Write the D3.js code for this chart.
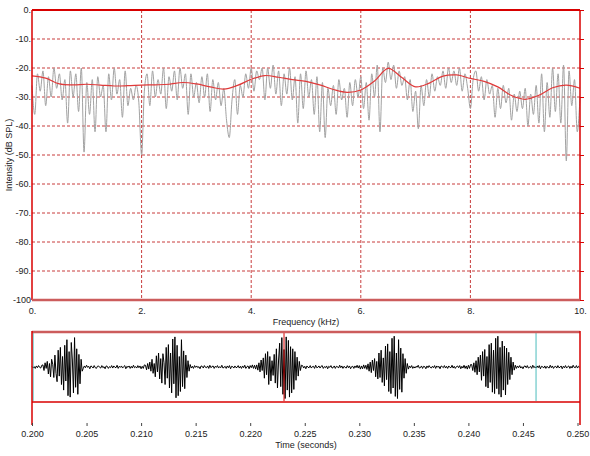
<!DOCTYPE html>
<html>
<head>
<title>Spectrum and waveform</title>
<script src="https://d3js.org/d3.v7.min.js"></script>
<style>
  body { margin: 0; background: #fff; }
  svg { font-family: 'Liberation Sans', Arial, sans-serif; }
  text { fill: #222; font-size: 9px; }
</style>
</head>
<body>
<svg width="590" height="456"></svg>

<script>

// spectrum (dB SPL), one value every 0.05 kHz from 0 to 10 kHz
const specStep = 0.05;
const spectrum = [
  -26,-36,-22,-28,-21,-33,-23,-30,-20,-27,-22,-31,-24,-39,-21,-30,-22,-35,-20,-49,
  -25,-36,-24,-42,-23,-30,-26,-42,-22,-31,-20,-29,-24,-37,-21,-33,-27,-31,-26,-32,
  -50,-28,-22,-33,-21,-30,-24,-29,-20,-34,-23,-28,-21,-31,-20,-27,-22,-36,-22,-30,
  -25,-32,-23,-30,-22,-35,-24,-31,-25,-33,-27,-38,-44,-31,-24,-36,-26,-30,-22,-27,
  -20,-28,-21,-24,-20,-31,-20,-27,-19,-29,-21,-33,-22,-29,-20,-31,-23,-39,-22,-34,
  -21,-30,-24,-36,-23,-42,-25,-44,-27,-33,-26,-36,-24,-31,-27,-37,-25,-33,-24,-30,
  -23,-34,-25,-38,-22,-30,-19,-42,-20,-25,-18,-24,-19,-27,-21,-26,-23,-31,-24,-35,
  -28,-41,-26,-33,-24,-30,-22,-28,-23,-26,-21,-27,-20,-25,-21,-26,-20,-28,-22,-27,
  -34,-24,-21,-28,-23,-31,-24,-29,-26,-37,-27,-34,-26,-32,-27,-38,-29,-35,-28,-34,
  -27,-40,-29,-36,-26,-39,-22,-42,-25,-37,-20,-35,-22,-39,-19,-52,-21,-33,-24,-42,
  -30
];

// smoothed envelope (dB SPL), one value every 0.25 kHz
const envStep = 0.25;
const envelope = [
  -22.7,-23.5,-25.5,-25.8,-25.6,-25.9,-26.2,-26.1,-25.9,-25.8,-25.6,-25.0,
  -25.5,-26.5,-27.3,-26.0,-23.9,-22.6,-23.2,-24.0,-24.6,-25.8,-27.4,-28.4,
  -27.6,-24.5,-20.1,-23.3,-26.5,-25.2,-22.8,-22.4,-23.6,-24.6,-26.5,-29.5,
  -30.8,-29.4,-26.8,-25.9,-27.0
];

const dbTicks = [0, -10, -20, -30, -40, -50, -60, -70, -80, -90, -100];
const khzTicks = [0, 2, 4, 6, 8, 10];

// waveform, one sample every 0.1 ms starting at 0.200 s
const waveStart = 0.2;
const waveStep = 0.0001;
const noise0 = [2,-3,1,-4,3,-2,4,-1,-3,5];
const burst1 = [6,-10,12,-4,16,-20,10,-28,22,8,-30,34,-18,-42,48,-26,56,-50,30,-66,
  62,-40,78,-82,44,-86,70,20,-74,84,-58,52,-78,36,-48,22,-12];
const noise1 = [-4,3,-2,5,-1,2,-5,3,1,-3,4,-2,-4,2,3,-1,-3,4,-2,1,-5,3,2,-4,1,-2,4,-3,3,-1,
  -2,5,-4,2,-1,3,-3,1,4,-5,2,-1,3,-4,2,-3,5,-2,1,-3,4,-2,3,-5,2,-4,6];
const burst2 = [5,-8,10,-6,14,-12,22,-18,10,-28,32,-14,40,-34,24,-46,38,12,-50,56,
  -32,64,-60,40,-74,80,-48,86,-88,62,-82,30,-70,78,-56,46,-62,34,-30,18,-12,7];
const noise2 = [-3,2,-4,4,-1,3,-2,1,-5,3,2,-3,4,-1,-2,3,-4,5,-2,1,3,-4,2,-1,4,-3,1,-2,5,-3,
  -1,2,-4,3,-2,4,-5,2,1,-3,3,-2,-1,4,-3,2,-4,3,-2,5,-4,1,3,-5,4,-2,6,-4,5,-6];
const burst3 = [6,-9,12,-14,20,-10,26,-32,38,-22,44,-50,30,-40,18,-24,36,-46,52,-60,
  20,68,-56,84,-78,50,-90,86,-66,76,-86,58,-74,52,-64,44,-38,28,-26,16,-10,5];
const noise3 = [4,-3,2,-5,3,-1,-2,4,-3,1,2,-4,5,-2,-1,3,-3,2,4,-4,1,-2,3,-5,2,-1,4,-3,-2,3,
  -4,2,1,-3,5,-2,3,-4,2,-1,-3,4,-2,3,-5,1,2,-4,3,-2,5,-3,4,-6,3,-5,6,-4];
const burst4 = [5,-7,9,-12,14,-16,20,-10,24,-28,16,-34,40,-30,48,-44,26,-54,60,-36,
  66,-70,44,-76,82,-60,88,-84,40,-90,78,-64,54,-72,38,-32,24,-18,10,-6];
const noise4 = [3,-2,4,-4,1,-3,2,-1,5,-3,-2,3,-4,2,1,-5,3,-2,4,-1,-3,2,-2,4,-4,3,-1,2,-5,3,
  1,-2,4,-3,2,-4,3,-1,-2,5,-3,2,-4,1,3,-2,4,-5,2,-3,5,-4,3,-6,5,-4,7];
const burst5 = [7,-10,12,-15,18,-22,28,-14,34,-38,44,-26,50,-56,30,-60,64,-44,68,-72,
  48,-76,82,-62,88,-78,56,-86,74,-66,60,-80,54,-50,42,-36,28,-22,14,-9,5];
const noise5 = [-4,3,-2,4,-3,1,-5,2,3,-2,4,-3,-1,2,-4,5,-2,1,-3,3,-2,4,-5,2,1,-3,3,-4,2,-1,
  -3,5,-2,3,-4,1,2,-3,4,-2,-1,3,-5,2,-2,4,-3,1,3,-4,2,-3,5,-1,-2,4,-3,2,-1];

const timeTicks = [0.200, 0.205, 0.210, 0.215, 0.220, 0.225, 0.230, 0.235, 0.240, 0.245, 0.250];
const cursorTime = 0.2231;
const markerTimes = [0.2001, 0.2462];


const svg = d3.select('svg');
const red = '#d80000';
const pale = '#cc5c5c';

// scales
const x = d3.scaleLinear().domain([0, 10]).range([32, 580]);
const y = d3.scaleLinear().domain([-100, 0]).range([300, 10]);
const t = d3.scaleLinear().domain([0.2, 0.25]).range([32, 577.5]);
const amp = d3.scaleLinear().domain([-100, 100]).range([402, 332]);

// ---- spectrum panel ----

// grid
svg.append('g')
    .selectAll('line').data(dbTicks.filter(d => d !== 0 && d !== -100))
    .enter().append('line')
        .attr('x1', x(0)).attr('x2', x(10))
        .attr('y1', d => y(d)).attr('y2', d => y(d))
        .attr('stroke', '#c83c3c')
        .attr('stroke-dasharray', '3,2');
svg.append('g')
    .selectAll('line').data(khzTicks.filter(d => d !== 0 && d !== 10))
    .enter().append('line')
        .attr('x1', d => x(d)).attr('x2', d => x(d))
        .attr('y1', y(0)).attr('y2', y(-100))
        .attr('stroke', '#c83c3c')
        .attr('stroke-dasharray', '3,2');

// gray spectrum
svg.append('path')
    .datum(spectrum)
    .attr('fill', 'none')
    .attr('stroke', '#a2a2a2')
    .attr('stroke-width', 1)
    .attr('d', d3.line()
        .x((d, i) => x(i * specStep))
        .y(d => y(d))
        .curve(d3.curveMonotoneX));

// red envelope
svg.append('path')
    .datum(envelope)
    .attr('fill', 'none')
    .attr('stroke', '#e03a3a')
    .attr('stroke-width', 1.2)
    .attr('d', d3.line()
        .x((d, i) => x(i * envStep))
        .y(d => y(d))
        .curve(d3.curveCatmullRom));

// axes
const yAxisG = svg.append('g')
    .attr('transform', 'translate(32,0)')
    .call(d3.axisLeft(y)
        .tickValues(dbTicks)
        .tickSize(0)
        .tickPadding(1)
        .tickFormat(d => d === -100 ? '-100' : d + '.'));
yAxisG.select('.domain').remove();
yAxisG.selectAll('text').style('font-size', '9px').attr('fill', '#222');

const rightAxisG = svg.append('g')
    .attr('transform', 'translate(580,0)')
    .call(d3.axisRight(y).tickValues(dbTicks).tickSize(4).tickFormat(''));
rightAxisG.select('.domain').remove();
rightAxisG.selectAll('line').attr('stroke', red);

const xAxisG = svg.append('g')
    .attr('transform', 'translate(0,300)')
    .call(d3.axisBottom(x)
        .tickValues(khzTicks)
        .tickSize(0)
        .tickPadding(8)
        .tickFormat(d => d + '.'));
xAxisG.select('.domain').remove();
xAxisG.selectAll('text').style('font-size', '9px').attr('fill', '#222');

// frame
svg.append('line').attr('x1', 32).attr('x2', 580).attr('y1', y(0)).attr('y2', y(0))
    .attr('stroke', red).attr('stroke-width', 2);
svg.append('line').attr('x1', 32).attr('x2', 32).attr('y1', y(0)).attr('y2', y(-100))
    .attr('stroke', red).attr('stroke-width', 1.5);
svg.append('line').attr('x1', 580).attr('x2', 580).attr('y1', y(0)).attr('y2', y(-100))
    .attr('stroke', red).attr('stroke-width', 1.5);
svg.append('line').attr('x1', 32).attr('x2', 580).attr('y1', y(-100)).attr('y2', y(-100))
    .attr('stroke', pale).attr('stroke-width', 2.5);

svg.append('text')
    .attr('x', 306).attr('y', 325)
    .attr('text-anchor', 'middle')
    .text('Frequency (kHz)');
svg.append('text')
    .attr('transform', 'translate(12,155) rotate(-90)')
    .attr('text-anchor', 'middle')
    .text('Intensity (dB SPL)');

// ---- waveform panel ----

const wave = [].concat(noise0, burst1, noise1, burst2, noise2, burst3,
    noise3, burst4, noise4, burst5, noise5);

svg.append('path')
    .datum(wave)
    .attr('fill', 'none')
    .attr('stroke', '#000')
    .attr('stroke-width', 1)
    .attr('d', d3.line()
        .x((d, i) => t(waveStart + i * waveStep))
        .y(d => amp(d)));

svg.append('g')
    .selectAll('line').data(markerTimes)
    .enter().append('line')
        .attr('x1', d => t(d)).attr('x2', d => t(d))
        .attr('y1', 333).attr('y2', 401)
        .attr('stroke', '#4cbcbc');

svg.append('line')
    .attr('x1', t(cursorTime)).attr('x2', t(cursorTime))
    .attr('y1', 333).attr('y2', 401)
    .attr('stroke', red);

svg.append('line').attr('x1', 32).attr('x2', 580).attr('y1', 332).attr('y2', 332)
    .attr('stroke', pale).attr('stroke-width', 2.5);
svg.append('line').attr('x1', 32).attr('x2', 580).attr('y1', 402).attr('y2', 402)
    .attr('stroke', red).attr('stroke-width', 1.5);
svg.append('line').attr('x1', 32).attr('x2', 32).attr('y1', 331).attr('y2', 425)
    .attr('stroke', red).attr('stroke-width', 1.5);
svg.append('line').attr('x1', 580).attr('x2', 580).attr('y1', 331).attr('y2', 425)
    .attr('stroke', red).attr('stroke-width', 1.5);

const tAxisG = svg.append('g')
    .attr('transform', 'translate(0,423)')
    .call(d3.axisBottom(t)
        .tickValues(timeTicks)
        .tickSize(3)
        .tickPadding(5)
        .tickFormat(d3.format('.3f')));
tAxisG.select('.domain').remove();
tAxisG.selectAll('line').attr('stroke', '#444');
tAxisG.selectAll('text').style('font-size', '9px').attr('fill', '#222');

svg.append('text')
    .attr('x', 306).attr('y', 448)
    .attr('text-anchor', 'middle')
    .text('Time (seconds)');

</script>
</body>
</html>
